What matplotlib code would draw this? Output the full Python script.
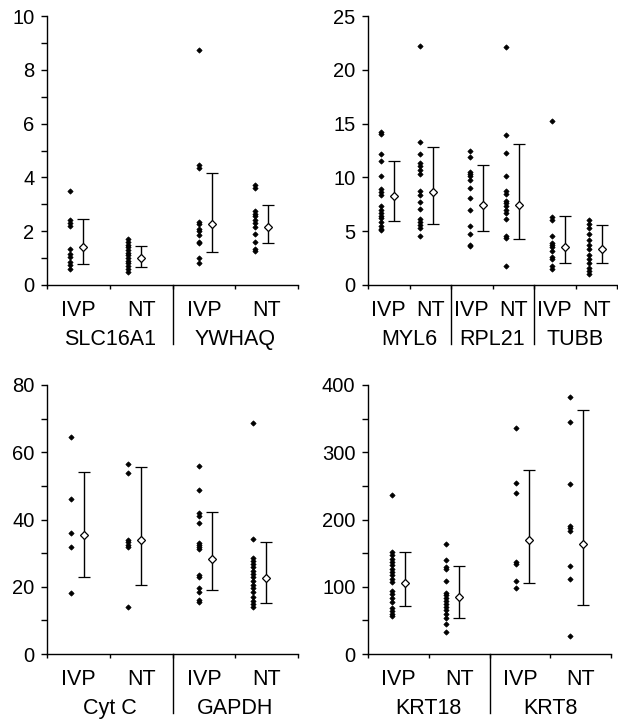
import numpy as np
import matplotlib
matplotlib.use('Agg')
import matplotlib.pyplot as plt

plt.rcParams['font.family'] = ['Liberation Sans', 'DejaVu Sans']

groups = ['IVP', 'NT']

# top left
slc16a1_ivp = [3.5, 2.4, 2.3, 2.2, 1.35, 1.15, 1.05, 0.85, 0.75, 0.6]
slc16a1_nt = [1.7, 1.6, 1.5, 1.4, 1.3, 1.2, 1.1, 1.0, 0.9, 0.8, 0.7, 0.6, 0.5]
ywhaq_ivp = [8.75, 4.45, 4.35, 2.35, 2.25, 2.1, 2.0, 1.85, 1.6, 1.55, 1.0, 0.8]
ywhaq_nt = [3.7, 3.6, 2.75, 2.65, 2.55, 2.4, 2.3, 2.15, 1.9, 1.6, 1.35, 1.25]
means_a = [1.40, 0.99, 2.26, 2.14]
low_a = [0.79, 0.66, 1.23, 1.55]
high_a = [2.47, 1.45, 4.15, 2.99]

# top right
myl6_ivp = [14.2, 14.0, 12.2, 11.5, 10.1, 8.9, 8.6, 8.4, 7.3, 7.0, 6.7, 6.4, 6.2, 5.9, 5.5, 5.2, 5.1]
myl6_nt = [22.2, 13.3, 12.2, 11.3, 11.1, 10.7, 10.3, 8.7, 8.4, 7.7, 7.1, 6.1, 5.9, 5.6, 5.3, 4.6]
rpl21_ivp = [12.5, 11.9, 10.5, 10.3, 10.1, 9.8, 9.0, 8.1, 7.0, 5.5, 4.7, 3.7, 3.6]
rpl21_nt = [22.1, 13.9, 12.3, 10.1, 8.7, 8.5, 7.8, 7.6, 7.3, 7.0, 6.7, 6.1, 4.6, 4.4, 1.8]
tubb_ivp = [15.2, 6.3, 6.0, 4.6, 3.9, 3.7, 3.5, 3.2, 2.6, 2.4, 1.8, 1.5]
tubb_nt = [6.0, 5.7, 5.3, 4.7, 4.2, 3.7, 3.3, 2.8, 2.4, 2.0, 1.6, 1.3, 1.0]
means_b = [8.25, 8.64, 7.43, 7.43, 3.5, 3.32]
low_b = [5.98, 5.7, 5.05, 4.24, 2.02, 2.02]
high_b = [11.52, 12.8, 11.18, 13.1, 6.41, 5.58]

# bottom left
cytc_ivp = [64.6, 46.1, 36.1, 31.9, 18.2]
cytc_nt = [56.6, 53.9, 33.9, 33.3, 32.4, 31.8, 14.1]
gapdh_ivp = [55.8, 48.8, 41.8, 41.1, 39.1, 33.1, 32.5, 31.7, 31.1, 23.5, 22.8, 19.5, 18.5, 16.1, 15.6]
gapdh_nt = [68.8, 34.2, 28.5, 27.8, 26.8, 25.8, 24.8, 23.8, 22.8, 21.8, 20.5, 19.5, 18.5,
            16.9, 15.9, 14.9, 14.1]
means_c = [35.4, 33.9, 28.3, 22.7]
low_c = [23.0, 20.5, 19.0, 15.3]
high_c = [54.2, 55.7, 42.3, 33.2]

# bottom right
krt18_ivp = [237, 151, 147, 142, 137, 132, 127, 122, 117, 112, 107, 94, 89, 84, 78, 68, 64, 60, 56]
krt18_nt = [163, 140, 130, 127, 109, 90, 87, 83, 79, 75, 70, 66, 60, 54, 45, 32]
krt8_ivp = [336, 255, 240, 137, 134, 109, 98]
krt8_nt = [382, 345, 253, 190, 187, 183, 131, 111, 27]
means_d = [105, 85, 170, 163]
low_d = [72, 53, 105, 73]
high_d = [152, 131, 274, 363]

panels = [
    dict(rect=[47, 16, 251, 269], genes=['SLC16A1', 'YWHAQ'],
         series=[slc16a1_ivp, slc16a1_nt, ywhaq_ivp, ywhaq_nt],
         means=means_a, low=low_a, high=high_a,
         ymax=10, major=2, minor=1, dots=[0.37, 0.29, 0.43, 0.31]),
    dict(rect=[368, 16, 249, 269], genes=['MYL6', 'RPL21', 'TUBB'],
         series=[myl6_ivp, myl6_nt, rpl21_ivp, rpl21_nt, tubb_ivp, tubb_nt],
         means=means_b, low=low_b, high=high_b,
         ymax=25, major=5, minor=None, dots=[0.31, 0.26, 0.45, 0.33, 0.44, 0.33]),
    dict(rect=[47, 385, 251, 269], genes=['Cyt C', 'GAPDH'],
         series=[cytc_ivp, cytc_nt, gapdh_ivp, gapdh_nt],
         means=means_c, low=low_c, high=high_c,
         ymax=80, major=20, minor=10, dots=[0.38, 0.29, 0.43, 0.29]),
    dict(rect=[368, 385, 243, 269], genes=['KRT18', 'KRT8'],
         series=[krt18_ivp, krt18_nt, krt8_ivp, krt8_nt],
         means=means_d, low=low_d, high=high_d,
         ymax=400, major=100, minor=50, dots=[0.40, 0.29, 0.43, 0.33]),
]

W, H = 618, 719
fig = plt.figure(figsize=(W / 100, H / 100), dpi=100)

for p in panels:
    x0, y0, w, h = p['rect']
    ax = fig.add_axes([x0 / W, (H - y0 - h) / H, w / W, h / H])
    n = len(p['series'])
    cat_px = w / n
    shift = 13.0 / cat_px   # mean marker sits ~13 px right of the dots

    for i, vals in enumerate(p['series']):
        xd = i + p['dots'][i]
        ax.plot([xd] * len(vals), vals, linestyle='none', marker='D', ms=2.7,
                mfc='black', mec='black', mew=0.5, clip_on=False, zorder=3)
        xm = xd + shift
        m = p['means'][i]
        ax.errorbar(xm, m, yerr=[[m - p['low'][i]], [p['high'][i] - m]],
                    fmt='D', ms=3.6, mfc='white', mec='black', mew=0.9,
                    ecolor='black', elinewidth=1.0, capsize=4.5, capthick=1.0, zorder=4)

    ax.set_xlim(0, n)
    ax.set_ylim(0, p['ymax'])
    ax.set_yticks(np.arange(0, p['ymax'] + 1e-9, p['major']))
    if p['minor']:
        ax.set_yticks(np.arange(0, p['ymax'] + 1e-9, p['minor']), minor=True)
    ax.set_xticks(np.arange(n + 1))
    ax.set_xticklabels([])
    ax.tick_params(axis='y', which='both', direction='out', length=4, width=1,
                   labelsize=14.5, pad=5)
    ax.tick_params(axis='x', direction='out', length=3, width=1)
    for s in ['top', 'right']:
        ax.spines[s].set_visible(False)
    for s in ['left', 'bottom']:
        ax.spines[s].set_linewidth(1.0)

    # group labels under each column, gene names under each pair
    for i in range(n):
        ax.annotate(groups[i % 2], xy=(i + 0.5, 0), xycoords=('data', 'axes fraction'),
                    xytext=(0, -31), textcoords='offset pixels',
                    ha='center', va='baseline', fontsize=15.5)
    for g, gene in enumerate(p['genes']):
        ax.annotate(gene, xy=(2 * g + 1, 0), xycoords=('data', 'axes fraction'),
                    xytext=(0, -60), textcoords='offset pixels',
                    ha='center', va='baseline', fontsize=15.5)
        if g > 0:
            ax.plot([2 * g, 2 * g], [0, -59 / h], color='black', lw=1.0,
                    transform=ax.get_xaxis_transform(), clip_on=False)

fig.savefig('out.png', dpi=100)
